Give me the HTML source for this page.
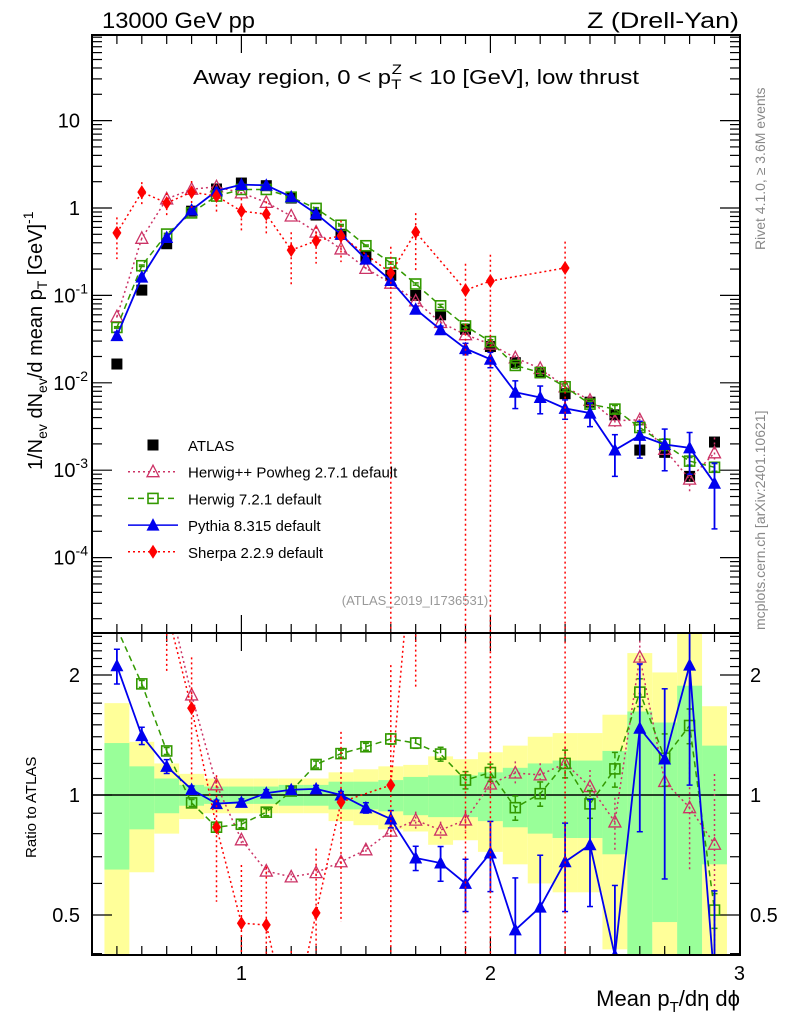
<!DOCTYPE html>
<html><head><meta charset="utf-8"><style>
html,body{margin:0;padding:0;background:#fff;overflow:hidden;width:786px;height:1024px;}
svg{display:block;font-family:"Liberation Sans",Arial,sans-serif;}
</style></head><body>
<svg id="chart" width="786" height="1024" viewBox="0 0 786 1024" xmlns="http://www.w3.org/2000/svg">
<defs>
<clipPath id="clipMain"><rect x="92" y="35" width="648" height="598"/></clipPath>
<clipPath id="clipRatio"><rect x="92" y="633" width="648" height="322"/></clipPath>
</defs>
<g id="bands" clip-path="url(#clipRatio)"></g>
<g id="axes"></g>
<g id="mainMarks" clip-path="url(#clipMain)"></g>
<g id="ratioMarks" clip-path="url(#clipRatio)"></g>
<rect x="92" y="35" width="648" height="598" fill="none" stroke="#000" stroke-width="2"/>
<rect x="92" y="633" width="648" height="322" fill="none" stroke="#000" stroke-width="2"/>
<text x="102" y="28" font-size="22" textLength="153" lengthAdjust="spacingAndGlyphs">13000 GeV pp</text>
<text x="739" y="28" font-size="22" text-anchor="end" textLength="152" lengthAdjust="spacingAndGlyphs">Z (Drell-Yan)</text>
<text x="193" y="84" font-size="20" textLength="446" lengthAdjust="spacingAndGlyphs">Away region, 0 &lt; p<tspan font-size="14" dy="5">T</tspan><tspan font-size="14" dx="-8" dy="-15">Z</tspan><tspan dy="10"> &lt; 10 [GeV], low thrust</tspan></text>
<text transform="translate(42,470) rotate(-90)" font-size="20">1/N<tspan font-size="14" dy="5">ev</tspan><tspan dy="-5"> dN</tspan><tspan font-size="14" dy="5">ev</tspan><tspan dy="-5">/d mean p</tspan><tspan font-size="14" dy="5">T</tspan><tspan dy="-5"> [GeV]</tspan><tspan font-size="14" dy="-9">-1</tspan></text>
<text transform="translate(36,858) rotate(-90)" font-size="15">Ratio to ATLAS</text>
<text x="740" y="1006" font-size="22" text-anchor="end">Mean p<tspan font-size="15" dy="6">T</tspan><tspan dy="-6">/dη dϕ</tspan></text>
<text transform="translate(765,250) rotate(-90)" font-size="14" fill="#888">Rivet 4.1.0, ≥ 3.6M events</text>
<text transform="translate(765,630) rotate(-90)" font-size="14" fill="#888">mcplots.cern.ch [arXiv:2401.10621]</text>
<text x="415" y="605" font-size="13" fill="#999" text-anchor="middle">(ATLAS_2019_I1736531)</text>
<g id="legend"></g>
</svg>
<script>
const xBins = [0.5,0.6,0.7,0.8,0.9,1.0,1.1,1.2,1.3,1.4,1.5,1.6,1.7,1.8,1.9,2.0,2.1,2.2,2.3,2.4,2.5,2.6,2.7,2.8,2.9];
const atlasVals = [0.0164,0.115,0.39,0.92,1.65,1.93,1.8,1.3,0.83,0.5,0.28,0.17,0.1,0.06,0.041,0.026,0.017,0.013,0.0075,0.006,0.0043,0.0017,0.0016,0.00085,0.0021];
const bandInner = [0.35,0.18,0.10,0.06,0.05,0.05,0.05,0.06,0.06,0.08,0.08,0.09,0.11,0.12,0.12,0.14,0.17,0.20,0.22,0.22,0.29,0.62,0.52,0.88,0.33];
const bandOuter = [0.70,0.36,0.20,0.13,0.10,0.10,0.10,0.10,0.10,0.14,0.16,0.18,0.19,0.25,0.23,0.28,0.33,0.40,0.43,0.43,0.59,1.27,1.03,1.8,0.67];
const herwigppVals = [0.057,0.45,1.27,1.64,1.75,1.49,1.16,0.81,0.53,0.34,0.204,0.138,0.0865,0.049,0.0355,0.0277,0.0193,0.0146,0.009,0.0063,0.00368,0.00377,0.00173,0.00079,0.00158];
const herwigppErr = [0.03,0.02,0.02,0.02,0.02,0.02,0.02,0.02,0.02,0.03,0.03,0.04,0.05,0.05,0.06,0.06,0.07,0.07,0.1,0.1,0.15,0.1,0.15,0.3,0.5];
const herwig7Vals = [0.043,0.2185,0.503,0.879,1.37,1.63,1.63,1.33,0.99,0.635,0.37,0.235,0.135,0.076,0.0447,0.0296,0.0158,0.0131,0.009,0.0057,0.005,0.00308,0.00198,0.00127,0.00108];
const herwig7Err = [0.02,0.02,0.02,0.02,0.02,0.02,0.02,0.02,0.02,0.02,0.02,0.03,0.03,0.04,0.05,0.05,0.07,0.07,0.08,0.08,0.1,0.08,0.15,0.1,0.1];
const pythiaVals = [0.0346,0.162,0.46,0.95,1.57,1.85,1.82,1.34,0.86,0.50,0.26,0.148,0.0695,0.0405,0.0246,0.0186,0.0078,0.0068,0.0051,0.0045,0.0017,0.0025,0.00197,0.0018,0.00071];
const pythiaErr = [0.1,0.05,0.04,0.02,0.02,0.02,0.02,0.02,0.02,0.02,0.03,0.05,0.07,0.1,0.15,0.2,0.35,0.35,0.25,0.3,0.5,0.45,0.5,0.5,0.7];
const sherpaVals = [0.52,1.52,1.14,1.52,1.37,0.92,0.85,0.33,0.42,0.48,null,0.18,0.53,null,0.115,0.146,null,null,0.206,null,null,null,null,null,null];
const sherpaErr = [0.5,0.3,0.3,0.34,0.35,0.4,0.4,0.6,0.45,0.5,null,1,0.65,null,1,1,null,null,1,null,null,null,null,null,null];
const mainTickLabels = ["10","1","10^-1","10^-2","10^-3","10^-4"];
const mainTickVals = [10,1,0.1,0.01,0.001,0.0001];
const ratioTickLabels = ["2","1","0.5"];
const ratioTickVals = [2,1,0.5];
const xTickLabels = ["1","2","3"];
const xTickVals = [1,2,3];

const NS="http://www.w3.org/2000/svg";
const X=v=>92+(v-0.4)*249;
const Ym=v=>208-87.4*Math.log10(v);
const Yr=r=>795-398.6*Math.log10(Math.max(r,1e-3));
function mk(tag,attrs,parent){const e=document.createElementNS(NS,tag);for(const k in attrs)e.setAttribute(k,attrs[k]);parent.appendChild(e);return e;}
const axes=document.getElementById('axes');
const bands=document.getElementById('bands');
const mainG=document.getElementById('mainMarks');
const ratioG=document.getElementById('ratioMarks');

xBins.forEach((x,i)=>{
  let r=mk('rect',{x:X(x-0.05),y:Yr(1+bandOuter[i]),width:X(x+0.05)-X(x-0.05),height:Yr(Math.max(1-bandOuter[i],0.3))-Yr(1+bandOuter[i]),fill:'#ffff99'},bands);
  
  
});
xBins.forEach((x,i)=>{
  let r=mk('rect',{x:X(x-0.05),y:Yr(1+bandInner[i]),width:X(x+0.05)-X(x-0.05),height:Yr(Math.max(1-bandInner[i],0.3))-Yr(1+bandInner[i]),fill:'#99ff99'},bands);
  
  
});
let ref=mk('line',{x1:92,x2:740,y1:Yr(1),y2:Yr(1),stroke:'#000','stroke-width':1.5},ratioG);



for(let k=5;k<30;k++){
  const v=k/10, major=(k%10===0), len=major?18:9, x=X(v);
  let t1=mk('line',{x1:x,x2:x,y1:633,y2:633-len,stroke:'#000','stroke-width':1.2},axes);
  
  
  let t2=mk('line',{x1:x,x2:x,y1:35,y2:35+len,stroke:'#000','stroke-width':1.2},axes);
  
  
  let t3=mk('line',{x1:x,x2:x,y1:955,y2:955-len,stroke:'#000','stroke-width':1.2},axes);
  
  
  let t4=mk('line',{x1:x,x2:x,y1:633,y2:633+len,stroke:'#000','stroke-width':1.2},axes);
  
  
}
xTickVals.forEach((v,i)=>{
  let t=mk('text',{x:X(v),y:980,'font-size':20,'text-anchor':'middle'},axes);
  t.textContent=xTickLabels[i];
  
  
});
for(let e=-5;e<=1;e++){
  for(let m=1;m<10;m++){
    const v=m*Math.pow(10,e), y=Ym(v);
    if(y<35||y>633) continue;
    const len=m===1?20:10;
    let a=mk('line',{x1:92,x2:92+len,y1:y,y2:y,stroke:'#000','stroke-width':1.2},axes);
    
    
    let b=mk('line',{x1:740,x2:740-len,y1:y,y2:y,stroke:'#000','stroke-width':1.2},axes);
    
    
  }
}
mainTickVals.forEach((v,i)=>{
  const lab=mainTickLabels[i];
  let t=mk('text',{x:80,y:Ym(v)+7,'font-size':20,'text-anchor':'end'},axes);
  if(lab.includes('^')){
    const [b,p]=lab.split('^');
    t.setAttribute('x',88);
    const s1=document.createElementNS(NS,'tspan');s1.textContent=b;t.appendChild(s1);
    const s2=document.createElementNS(NS,'tspan');s2.textContent=p;s2.setAttribute('font-size','14');s2.setAttribute('dy','-9');t.appendChild(s2);
  } else t.textContent=lab;
  
  
});
for(let k=4;k<=25;k++){
  const v=k/10, y=Yr(v);
  if(y<633||y>955) continue;
  const major=(k===5||k===10||k===20), len=major?20:10;
  let a=mk('line',{x1:92,x2:92+len,y1:y,y2:y,stroke:'#000','stroke-width':1.2},axes);
  
  
  let b=mk('line',{x1:740,x2:740-len,y1:y,y2:y,stroke:'#000','stroke-width':1.2},axes);
  
  
}
ratioTickVals.forEach((v,i)=>{
  let t=mk('text',{x:80,y:Yr(v)+7,'font-size':20,'text-anchor':'end'},axes);
  t.textContent=ratioTickLabels[i];
  
  
  let t2=mk('text',{x:750,y:Yr(v)+7,'font-size':20,'text-anchor':'start'},axes);
  t2.textContent=ratioTickLabels[i];
  
  
});

function marker(kind,x,y,color,g){
  let e;
  if(kind==='sq') e=mk('rect',{x:x-5.5,y:y-5.5,width:11,height:11,fill:'#000'},g);
  else if(kind==='osq') e=mk('rect',{x:x-5,y:y-5,width:10,height:10,fill:'none',stroke:color,'stroke-width':1.6},g);
  else if(kind==='otri') e=mk('polygon',{points:`${x},${y-6.5} ${x+6},${y+5} ${x-6},${y+5}`,fill:'none',stroke:color,'stroke-width':1.3},g);
  else if(kind==='tri') e=mk('polygon',{points:`${x},${y-7} ${x+6.5},${y+5.5} ${x-6.5},${y+5.5}`,fill:color},g);
  else e=mk('polygon',{points:`${x},${y-7} ${x+4.5},${y} ${x},${y+7} ${x-4.5},${y}`,fill:color},g);
  return e;
}
const series=[
  {name:'herwigpp',vals:herwigppVals,err:herwigppErr,color:'#cc3366',dash:'2,3',w:1.5,kind:'otri'},
  {name:'herwig7',vals:herwig7Vals,err:herwig7Err,color:'#339900',dash:'6,4',w:1.5,kind:'osq'},
  {name:'pythia',vals:pythiaVals,err:pythiaErr,color:'#0000ee',dash:'',w:1.8,kind:'tri'},
  {name:'sherpa',vals:sherpaVals,err:sherpaErr,color:'#ff0000',dash:'2,3',w:1.5,kind:'dia'}
];
function drawSeries(s,g,ratio){
  const pts=[];
  const bottom=ratio?955:633;
  xBins.forEach((x,i)=>{
    const v=s.vals[i]; if(v==null) return;
    const val=ratio?v/atlasVals[i]:v;
    const fy=ratio?Yr:Ym;
    const e=s.err[i]||0;
    const lo=val*(1-e), hi=val*(1+e);
    pts.push([X(x),fy(val)]);
    let eb=mk('line',{x1:X(x),x2:X(x),y1:fy(hi),y2:lo>0?Math.min(fy(lo),bottom):bottom,stroke:s.color,'stroke-width':s.w,'stroke-dasharray':s.dash},g);
    
    
    if(s.name==='pythia'||s.name==='herwig7'){
      [hi,lo].forEach(q=>{ if(q<=0) return;
        let c=mk('line',{x1:X(x)-3,x2:X(x)+3,y1:fy(q),y2:fy(q),stroke:s.color,'stroke-width':1.5},g);
        
        });
    }
  });
  let pl=mk('polyline',{points:pts.map(p=>p.join(',')).join(' '),fill:'none',stroke:s.color,'stroke-width':s.w,'stroke-dasharray':s.dash},g);
  
  
  xBins.forEach((x,i)=>{
    const v=s.vals[i]; if(v==null) return;
    const val=ratio?v/atlasVals[i]:v;
    const m=marker(s.kind,X(x),(ratio?Yr:Ym)(val),s.color,g);
    
    
  });
}
xBins.forEach((x,i)=>{
  const m=marker('sq',X(x),Ym(atlasVals[i]),'#000',mainG);
  
  
});
series.forEach(s=>drawSeries(s,mainG,false));
series.forEach(s=>drawSeries(s,ratioG,true));

const leg=document.getElementById('legend');
const legItems=[['ATLAS','sq','#000',''],['Herwig++ Powheg 2.7.1 default','otri','#cc3366','2,3'],['Herwig 7.2.1 default','osq','#339900','6,4'],['Pythia 8.315 default','tri','#0000ee',''],['Sherpa 2.2.9 default','dia','#ff0000','2,3']];
legItems.forEach((it,i)=>{
  const y=445+i*26.7;
  if(i>0){
    let l=mk('line',{x1:128,x2:178,y1:y,y2:y,stroke:it[2],'stroke-width':1.5,'stroke-dasharray':it[3]},leg);
    
    
  }
  const m=marker(it[1],153,y,it[2],leg);
  
  
  let t=mk('text',{x:188,y:y+6,'font-size':15},leg);
  t.textContent=it[0];
  
  
});
</script>
</body></html>
